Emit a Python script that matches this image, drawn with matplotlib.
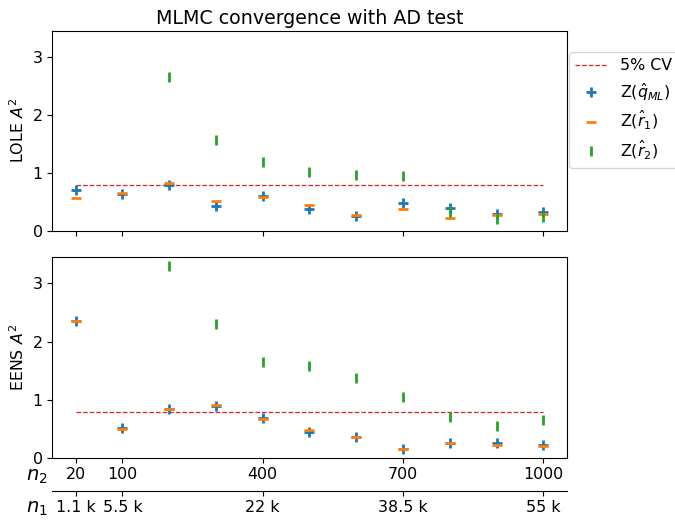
import matplotlib.pyplot as plt
import numpy as np

plt.rcParams["font.size"] = 11.4

# x positions are just indices, labelled with the sample sizes
n2 = [20, 100, 200, 300, 400, 500, 600, 700, 800, 900, 1000]
tick_idx = [0, 1, 4, 7, 10]
n2_labels = ["20", "100", "400", "700", "1000"]
n1_labels = ["1.1 k", "5.5 k", "22 k", "38.5 k", "55 k"]

ad_crit = 0.787  # 5% critical value

# LOLE
lole_q = [0.71, 0.63, 0.79, 0.43, 0.60, 0.38, 0.25, 0.49, 0.40, 0.29, 0.32]
lole_r1 = [0.57, 0.65, 0.82, 0.52, 0.58, 0.44, 0.28, 0.385, 0.23, 0.28, 0.29]
lole_r2 = [np.nan, np.nan, 2.65, 1.575, 1.19, 1.01, 0.96, 0.94, 0.33, 0.20, 0.24]

# EENS
eens_q = [2.35, 0.51, 0.845, 0.885, 0.68, 0.45, 0.36, 0.15, 0.25, 0.25, 0.21]
eens_r1 = [2.35, 0.50, 0.83, 0.90, 0.66, 0.47, 0.36, 0.155, 0.25, 0.22, 0.20]
eens_r2 = [np.nan, np.nan, 3.30, 2.31, 1.65, 1.58, 1.38, 1.05, 0.695, 0.54, 0.655]

x = np.arange(len(n2))

fig = plt.figure(figsize=(6.75, 5.22), dpi=100)
ax1 = fig.add_axes([0.0775, 0.5575, 0.762, 0.3837])
ax2 = fig.add_axes([0.0775, 0.1232, 0.762, 0.3839], sharex=ax1, sharey=ax1)

ms = 7
mew = 2


def draw(ax, q, r1, r2):
    ax.plot([x[0], x[-1]], [ad_crit, ad_crit], "--", color="tab:red", lw=0.9, label="5% CV")
    ax.plot(x, q, "+", color="tab:blue", ms=ms, mew=mew, label=r"Z($\hat{q}_{ML}$)")
    ax.plot(x, r1, "_", color="tab:orange", ms=ms, mew=mew, label=r"Z($\hat{r}_1$)")
    ax.plot(x, r2, "|", color="tab:green", ms=ms, mew=mew, label=r"Z($\hat{r}_2$)")


draw(ax1, lole_q, lole_r1, lole_r2)
draw(ax2, eens_q, eens_r1, eens_r2)

ax1.set_ylim(0, 3.45)
ax1.set_yticks([0, 1, 2, 3])
ax1.set_xticks(tick_idx)
ax1.set_xlim(-0.5, 10.5)
plt.setp(ax1.get_xticklabels(), visible=False)

ax1.set_ylabel(r"LOLE $A^2$")
ax2.set_ylabel(r"EENS $A^2$")
ax1.set_title("MLMC convergence with AD test", fontsize=13.7, pad=5)

ax2.set_xticklabels(n2_labels)
sec = ax2.secondary_xaxis(-0.165)
sec.set_xticks(tick_idx)
sec.set_xticklabels(n1_labels)

ax2.text(-0.03, -0.095, r"$n_2$", transform=ax2.transAxes, fontsize=14,
         ha="center", va="center")
ax2.text(-0.03, -0.256, r"$n_1$", transform=ax2.transAxes, fontsize=14,
         ha="center", va="center")

ax1.legend(loc="upper left", bbox_to_anchor=(1.0045, 0.893), borderaxespad=0,
           labelspacing=0.45)

plt.savefig("out.png")
